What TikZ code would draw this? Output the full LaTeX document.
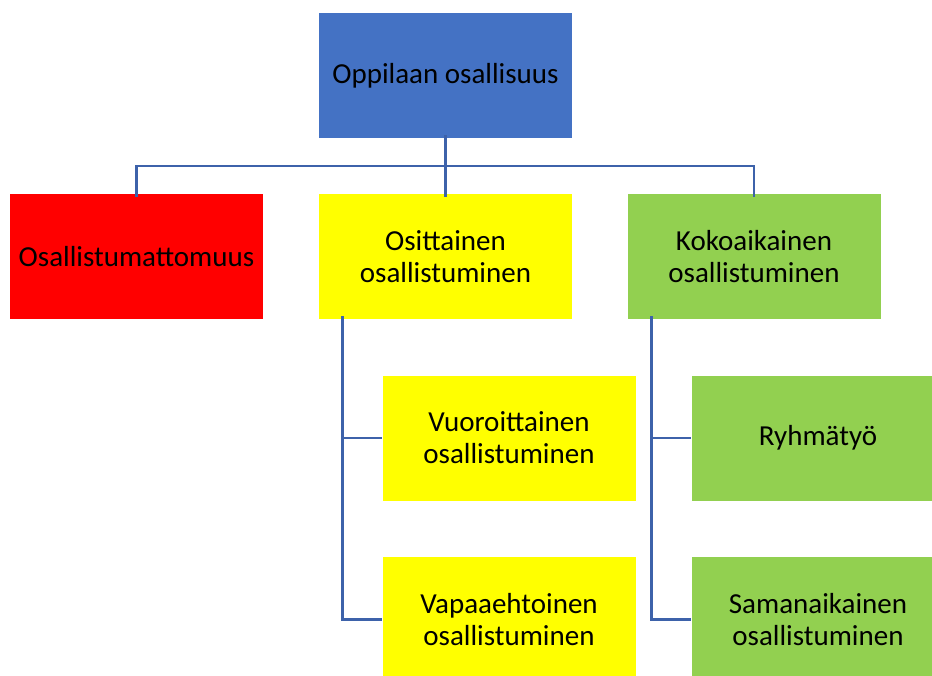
\documentclass[tikz,border=0pt]{standalone}
\usepackage{fontspec}
\setmainfont{Carlito}
\usetikzlibrary{positioning}

\definecolor{rootblue}{HTML}{4472C4}
\definecolor{linkblue}{HTML}{3D62AA}
\definecolor{nonered}{HTML}{FF0000}
\definecolor{partyellow}{HTML}{FFFF00}
\definecolor{fullgreen}{HTML}{92D050}

\begin{document}
\begin{tikzpicture}[x=1pt, y=-1pt,
  box/.style={minimum width=253pt, minimum height=125pt, inner sep=0pt,
    align=center, font=\fontsize{29}{32}\selectfont},
  link/.style={draw=linkblue, line width=2.7pt}]

% Frame
\clip (0,0) rectangle (932,675);
\fill[white] (0,0) rectangle (932,675);

% Top level
\node[box, fill=rootblue] (root) at (445.5,75.5) {Oppilaan osallisuus};

% Second level
\node[box, fill=nonered] (none) at (136.5,256.5) {Osallistumattomuus};
\node[box, fill=partyellow] (partial) at (445.5,256.5) {Osittainen\\osallistuminen};
\node[box, fill=fullgreen] (full) at (754,256.5) {Kokoaikainen\\osallistuminen};

% Third level
\node[box, fill=partyellow] (turns) at (509,438) {Vuoroittainen\\osallistuminen};
\node[box, fill=partyellow] (voluntary) at (509,619.5) {Vapaaehtoinen\\osallistuminen};
\node[box, fill=fullgreen] (group) at (818,438) {Ryhmätyö};
\node[box, fill=fullgreen] (simult) at (818,619.5) {Samanaikainen\\osallistuminen};

% Connectors
\coordinate (hub) at (445.5,166);
\draw[link] ([yshift=3pt]root.south) -- ([yshift=-3pt]partial.north);
\draw[link] ([yshift=-3pt]none.north) |- (hub) -| ([yshift=-3pt]full.north);
\draw[link] ([xshift=24pt, yshift=3pt]partial.south west) |- (turns.west);
\draw[link] ([xshift=24pt, yshift=3pt]partial.south west) |- (voluntary.west);
\draw[link] ([xshift=24pt, yshift=3pt]full.south west) |- (group.west);
\draw[link] ([xshift=24pt, yshift=3pt]full.south west) |- (simult.west);

\end{tikzpicture}
\end{document}
